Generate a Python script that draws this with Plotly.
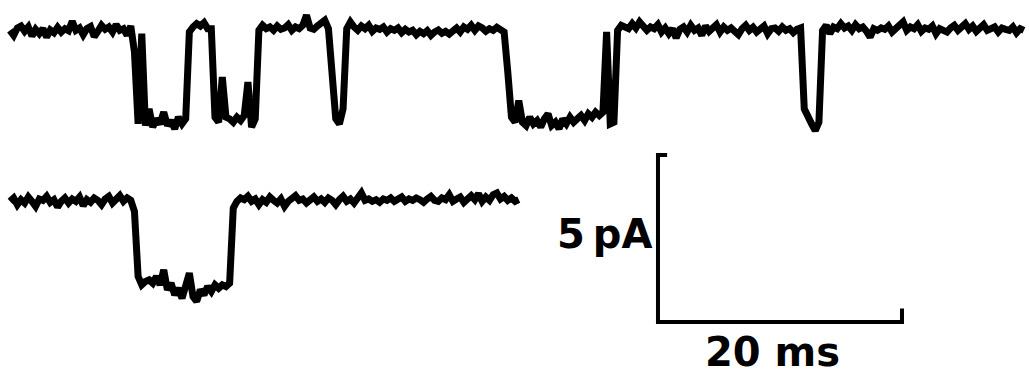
import numpy as np
import plotly.graph_objects as go

# Single-channel current records, sampled every 0.3 ms (pA, closed level = 0)
dt_ms = 0.3

trace1_pA = [
    0.05, -0.10, 0.12, 0.18, 0.02, 0.15, -0.12, 0.08, -0.05, 0.10,
    -0.15, 0.06, -0.02, 0.14, 0.00, 0.10, 0.04, 0.32, 0.05, 0.12,
    -0.08, 0.10, 0.16, -0.14, 0.02, 0.20, 0.08, 0.15, 0.00, 0.22,
    0.05, 0.10, -0.10, 0.18,
    -0.60, -2.75, -0.05, -2.80, -2.30, -2.85, -2.60, -2.75, -2.40, -2.80,
    -2.65, -2.90, -2.55, -2.75, -2.60, 0.00,
    0.15, 0.25, 0.18, 0.28, 0.10, 0.10, -2.55, -2.70, -1.35, -2.55,
    -2.60, -2.70, -2.55, -2.65, -2.50, -1.50, -2.85, -2.60,
    0.05, 0.20, 0.10, 0.15, 0.05, 0.18, 0.08, 0.12, 0.22, 0.05,
    0.15, 0.10, 0.20, 0.50, 0.12, 0.08, 0.18, 0.25, 0.35, 0.10,
    -1.20, -2.60, -2.75, -2.30, 0.10,
    0.30, 0.15, 0.05, 0.18, 0.10, 0.20, 0.02, 0.12, 0.08, 0.15,
    0.00, 0.10, 0.05, 0.12, -0.02, 0.08, 0.00, 0.05, -0.08, 0.02,
    -0.05, 0.04, -0.10, 0.00, 0.06, -0.04, 0.02, -0.06, 0.05, 0.12,
    0.00, 0.15, 0.08, 0.20, 0.05, 0.18, 0.12, 0.02, 0.10, 0.05,
    0.14, 0.06, 0.00,
    -1.20, -2.55, -2.70, -2.05, -2.70, -2.80, -2.55, -2.75, -2.65, -2.85,
    -2.60, -2.45, -2.80, -2.70, -2.90, -2.60, -2.75, -2.55, -2.70, -2.60,
    -2.50, -2.65, -2.45, -2.55, -2.40, -2.50, -2.40,
    0.00, -2.75, -2.70,
    0.05, 0.20, 0.15, 0.10, 0.25, 0.12, 0.30, 0.18, 0.05, 0.15,
    0.10, 0.22, 0.00, 0.12, -0.05, 0.10, -0.18, 0.08, 0.15, 0.00,
    0.20, 0.05, 0.12, -0.10, 0.18, 0.02, 0.10, 0.22, 0.00, 0.15,
    0.05, 0.12, 0.02, -0.08, 0.10, 0.20, 0.05, 0.14, 0.00, 0.08,
    0.18, -0.05, 0.10, 0.12, 0.02, 0.15, 0.05, 0.10, -0.02, 0.08,
    0.12,
    -2.30, -2.60, -2.75, -2.95, -2.70, 0.05,
    0.20, -0.05, 0.15, 0.10, 0.25, 0.12, 0.18, 0.05, 0.22, 0.10,
    0.15, 0.02, -0.15, 0.10, 0.05, 0.12, 0.08, 0.18, 0.00, 0.10,
    0.20, 0.30, 0.05, 0.15, 0.10, 0.22, 0.02, 0.12, 0.08, 0.18,
    -0.05, 0.10, 0.05, 0.00, 0.12, 0.20, 0.05, 0.15, 0.25, 0.08,
    0.18, 0.02, 0.12, 0.22, 0.05, 0.10, 0.15, 0.00, 0.12, 0.08,
    0.05, 0.15, -0.02, 0.10, 0.05,
]

trace2_pA = [
    0.05, 0.15, -0.05, 0.10, 0.00, 0.18, 0.05, -0.10, 0.12, 0.08,
    0.20, 0.02, 0.10, -0.12, 0.05, 0.15, 0.00, 0.12, 0.05, 0.18,
    -0.08, 0.10, 0.02, 0.15, 0.08, -0.05, 0.12, 0.20, 0.00, 0.10,
    0.22, 0.05, 0.15, 0.08,
    -0.25, -2.20, -2.45,
    -2.35, -2.30, -2.40, -2.20, -2.45, -2.00, -2.60, -2.40, -2.75, -2.55,
    -2.85, -2.50, -2.10, -2.80, -2.95, -2.60, -2.75, -2.50, -2.65, -2.45,
    -2.55, -2.45, -2.50, -2.40,
    -0.15, 0.05,
    0.15, 0.10, 0.20, 0.05, 0.12, -0.05, 0.10, 0.02, 0.18, 0.08,
    0.00, 0.12, -0.10, 0.05, 0.15, 0.22, 0.08, 0.12, 0.00, 0.10,
    0.18, 0.05, 0.12, 0.02, 0.15, 0.08, -0.05, 0.10, 0.20, 0.05,
    0.12, 0.00, 0.15, 0.30, 0.08, 0.12, 0.05, 0.10, 0.02, 0.12,
    0.08, 0.15, 0.05, 0.10, 0.18, 0.05, 0.12, 0.08, 0.15, 0.10,
    0.02, 0.12, 0.20, 0.08, 0.05, 0.15, 0.10, 0.25, 0.05, 0.12,
    0.18, 0.02, 0.15, 0.22, 0.10, 0.28, 0.05, 0.18, 0.08, 0.25,
    0.30, 0.12, 0.20, 0.08, 0.15, 0.05, 0.10,
]

# Calibration bar
scale_ms = 20
scale_pA = 5
scale_labels = ["5 pA", "20 ms"]

# Layout of the panel (data units)
row2_offset = -5.12          # vertical shift of the second record
bar_x0, bar_ytop = 53.11, -3.68

t1 = np.arange(len(trace1_pA)) * dt_ms
t2 = np.arange(len(trace2_pA)) * dt_ms
y2 = np.array(trace2_pA) + row2_offset

ink = "#000000"
trace_line = dict(color=ink, width=7)
fig = go.Figure()
fig.add_trace(go.Scatter(x=t1, y=trace1_pA, mode="lines",
                         line=trace_line, hoverinfo="skip"))
fig.add_trace(go.Scatter(x=t2, y=y2, mode="lines",
                         line=trace_line, hoverinfo="skip"))

bar_ybot = bar_ytop - scale_pA
bar_x1 = bar_x0 + scale_ms
fig.add_trace(go.Scatter(
    x=[bar_x0 + 0.75, bar_x0, bar_x0, bar_x1, bar_x1],
    y=[bar_ytop, bar_ytop, bar_ybot, bar_ybot, bar_ybot + 0.4],
    mode="lines", line=dict(color=ink, width=4), hoverinfo="skip"))

font = dict(family="DejaVu Sans", size=40, color=ink)
fig.add_annotation(x=bar_x0 - 0.35, y=-6.05, text="<b>5\u2009pA</b>",
                   showarrow=False, xanchor="right", yanchor="middle", font=font)
fig.add_annotation(x=bar_x0 + scale_ms / 2 - 0.6, y=-9.58,
                   text="<b>%s</b>" % scale_labels[1],
                   showarrow=False, xanchor="center", yanchor="middle", font=font)

fig.update_layout(
    width=1029, height=381,
    margin=dict(l=0, r=0, t=0, b=0),
    paper_bgcolor="white", plot_bgcolor="white",
    showlegend=False,
    xaxis=dict(range=[-0.82, 83.52], visible=False, fixedrange=True),
    yaxis=dict(range=[-10.449, 0.958], visible=False, fixedrange=True),
)

fig.write_html("out.html")
